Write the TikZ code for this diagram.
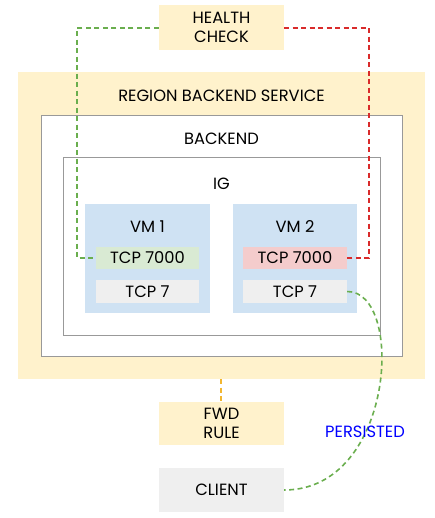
\documentclass[tikz,border=0pt]{standalone}
\usepackage{fontspec}
\setmainfont{Poppins}
\begin{document}
\definecolor{hcyellow}{HTML}{FFF2CC}
\definecolor{vmblue}{HTML}{CFE2F3}
\definecolor{okgreen}{HTML}{D9EAD3}
\definecolor{badred}{HTML}{F4CCCC}
\definecolor{lightgray}{HTML}{EFEFEF}
\definecolor{framegray}{HTML}{999999}
\definecolor{dashgreen}{HTML}{6AAE4E}
\definecolor{dashred}{HTML}{D92B2B}
\definecolor{dashyellow}{HTML}{F2B630}
\begin{tikzpicture}[x=1pt,y=-1pt,
  every node/.style={font=\fontsize{16.3}{19.5}\selectfont, text=black},
  box/.style={draw=none, inner sep=0pt, align=center},
  frame/.style={draw=framegray, line width=1pt, fill=white},
  link/.style={dash pattern=on 5pt off 3.5pt, line width=1.6pt}]
\useasboundingbox (0,0) rectangle (435,518);

% outer service and nested containers
\fill[hcyellow] (18,72) rectangle (425,379);
\node[box] (rbs) at (221.5,96) {REGION BACKEND SERVICE};
\draw[frame] (41,116) rectangle (402,356);
\node[box] (be) at (221.5,139) {BACKEND};
\draw[frame] (63,158) rectangle (380,335);
\node[box] (ig) at (221.5,184) {IG};

% virtual machines
\fill[vmblue] (85,204) rectangle (210,313);
\node[box] (vm1) at (147.5,227) {VM 1};
\fill[vmblue] (233,204) rectangle (357,313);
\node[box] (vm2) at (295,227) {VM 2};

% ports
\node[box, fill=okgreen, minimum width=103pt, minimum height=22pt] (p1a) at (147.5,258) {TCP 7000};
\node[box, fill=lightgray, minimum width=103pt, minimum height=23pt] (p1b) at (147.5,291.5) {TCP 7};
\node[box, fill=badred, minimum width=104pt, minimum height=22pt] (p2a) at (295,258) {TCP 7000};
\node[box, fill=lightgray, minimum width=104pt, minimum height=23pt] (p2b) at (295,291.5) {TCP 7};

% standalone resources
\node[box, fill=hcyellow, minimum width=125pt, minimum height=45pt] (hc) at (221.5,27.5) {HEALTH\\CHECK};
\node[box, fill=hcyellow, minimum width=125pt, minimum height=43pt] (fwd) at (221.5,423.5) {FWD\\RULE};
\node[box, fill=lightgray, minimum width=125pt, minimum height=44pt] (client) at (221.5,490) {CLIENT};
\coordinate (rbsbottom) at (221,379);

% connectors
\draw[link, draw=dashgreen] (hc.west |- 0,28) -- (77,28) -- (77,258) -- (p1a.west);
\draw[link, draw=dashred] (hc.east |- 0,28) -- (369,28) -- (369,258) -- (p2a.east);
\draw[link, draw=dashyellow] (rbsbottom) -- (rbsbottom |- fwd.north);
\draw[link, draw=dashgreen] (p2b.east) .. controls (405,291) and (395,490) .. (client.east);
\node[box, text=blue] (persisted) at (365,432) {PERSISTED};
\end{tikzpicture}
\end{document}
